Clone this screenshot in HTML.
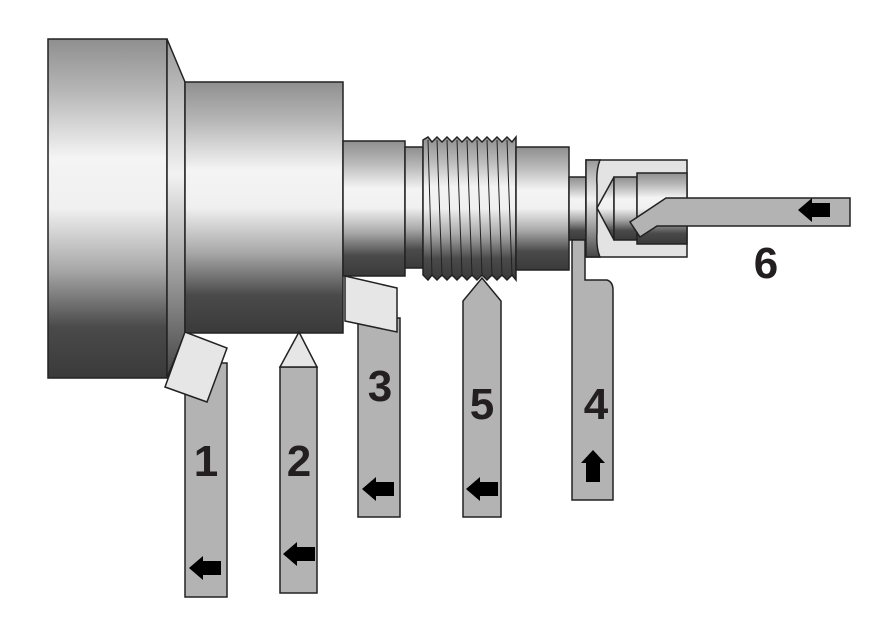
<!DOCTYPE html>
<html><head><meta charset="utf-8"><style>
html,body{margin:0;padding:0;background:#fff;}
svg{display:block;}
text{font-family:"Liberation Sans",sans-serif;font-weight:bold;fill:#231f20;}
</style></head><body>
<svg width="886" height="630" viewBox="0 0 886 630" xmlns="http://www.w3.org/2000/svg">
<defs>
<linearGradient id="cyl" x1="0" y1="0" x2="0" y2="1">
<stop offset="0" stop-color="#8f8f8f"/>
<stop offset="0.15" stop-color="#b5b5b5"/>
<stop offset="0.35" stop-color="#f4f4f4"/>
<stop offset="0.5" stop-color="#f0f0f0"/>
<stop offset="0.68" stop-color="#a8a8a8"/>
<stop offset="0.85" stop-color="#4a4a4a"/>
<stop offset="1" stop-color="#3a3a3a"/>
</linearGradient>
<linearGradient id="bev" x1="0" y1="0" x2="0" y2="1">
<stop offset="0" stop-color="#999"/>
<stop offset="0.4" stop-color="#f2f2f2"/>
<stop offset="1" stop-color="#444"/>
</linearGradient>
<path id="arL" d="M0,0 L14,-12 L14,-7 L32,-7 L32,7 L14,7 L14,12 Z" fill="#000"/>
</defs>
<g stroke="#222" stroke-width="1.5">
<rect x="48" y="39" width="119" height="339" fill="url(#cyl)"/>
<path d="M167,39 L185,82 L185,333 L167,378 Z" fill="url(#bev)"/>
<rect x="185" y="82" width="158" height="251" fill="url(#cyl)"/>
<rect x="343" y="141" width="62" height="135" fill="url(#cyl)"/>
<rect x="405" y="147" width="18" height="121" fill="url(#cyl)"/>
<path d="M423,140 L428,137 L432,142 L437,137 L442,142 L447,137 L452,142 L457,137 L462,142 L467,137 L472,142 L477,137 L482,142 L487,137 L492,142 L497,137 L502,142 L507,137 L512,142 L516,137 L516,280 L512,275 L507,280 L502,275 L497,280 L492,275 L487,280 L482,275 L477,280 L472,275 L467,280 L462,275 L457,280 L452,275 L447,280 L442,275 L437,280 L432,275 L428,280 L423,275 Z" fill="url(#cyl)"/>
<g stroke-width="1" fill="none">
<path d="M428,140 L432,275 M437,140 L442,275 M447,140 L452,275 M457,140 L462,275 M467,140 L472,275 M477,140 L482,275 M487,140 L492,275 M497,140 L502,275 M507,140 L512,275"/>
</g>
<rect x="516" y="147" width="53" height="123" fill="url(#cyl)"/>
<rect x="569" y="177" width="17" height="63" fill="url(#cyl)"/>
<rect x="586" y="160" width="101" height="97" fill="#e3e3e3"/>
<path d="M586,160 L600,160 Q596,170 597,185 L597,232 Q596,248 600,257 L586,257 Z" fill="url(#bev)"/>
<path d="M597,208 L614,177 L614,240 Z" fill="url(#cyl)"/>
<rect x="614" y="177" width="23" height="63" fill="url(#cyl)"/>
<rect x="637" y="173" width="50" height="71" fill="url(#cyl)"/>
<path d="M666,198 L850,198 L850,226 L657,226 L640,237 L630,222 Z" fill="#b3b3b3"/>
<path d="M572,240 L585,240 L585,280 L607,280 Q613,282 613,290 L613,500 L572,500 Z" fill="#b3b3b3"/>
<path d="M482,278 L501,301 L501,517 L463,517 L463,301 Z" fill="#b3b3b3"/>
<rect x="358" y="318" width="42" height="199" fill="#b3b3b3"/>
<path d="M345,276 L397,288 L397,332 L345,321 Z" fill="#e6e6e6"/>
<rect x="280" y="367" width="37" height="226" fill="#b3b3b3"/>
<path d="M280,367 L299,332 L317,367 Z" fill="#e6e6e6"/>
<rect x="185" y="363" width="42" height="234" fill="#b3b3b3"/>
<path d="M185,332 L227,348 L207,402 L165,387 Z" fill="#e6e6e6"/>
</g>
<use href="#arL" x="189" y="568"/>
<use href="#arL" x="283" y="554"/>
<use href="#arL" x="362" y="489"/>
<use href="#arL" x="466" y="489"/>
<use href="#arL" x="798" y="210"/>
<path d="M593,450 L605,463 L600,463 L600,482 L586,482 L586,463 L581,463 Z" fill="#000"/>
<g font-size="44" text-anchor="middle">
<text x="206" y="476">1</text>
<text x="299" y="476">2</text>
<text x="380" y="401">3</text>
<text x="482" y="419">5</text>
<text x="596" y="419">4</text>
<text x="766" y="278">6</text>
</g>
</svg>
</body></html>
